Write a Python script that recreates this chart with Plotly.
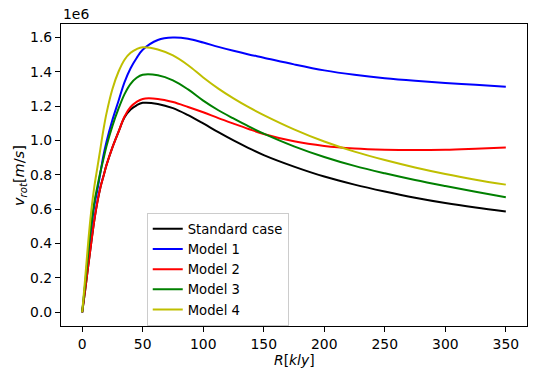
import plotly.graph_objects as go

# radius in kly
r = [0, 2.5, 5, 7.5, 10, 12.5, 15, 17.5, 20, 25, 30, 35, 40, 45, 50,
     62.5, 75, 87.5, 100, 112.5, 125, 137.5, 150,
     175, 200, 225, 250, 275, 300, 325, 350]

# rotation velocity in units of 1e6 m/s
v_standard = [0, 0.13, 0.27, 0.405, 0.535, 0.64, 0.725, 0.79, 0.855, 0.96, 1.05, 1.135,
              1.18, 1.205, 1.219,
              1.213, 1.188, 1.147, 1.099, 1.048, 1.0, 0.956, 0.915,
              0.848, 0.79, 0.743, 0.703, 0.667, 0.636, 0.61, 0.587]
v_model1 = [0, 0.16, 0.33, 0.49, 0.62, 0.71, 0.81, 0.91, 0.99, 1.12, 1.23, 1.34,
            1.42, 1.48, 1.528,
            1.585, 1.599, 1.592, 1.57, 1.545, 1.522, 1.501, 1.482,
            1.443, 1.408, 1.382, 1.362, 1.347, 1.335, 1.324, 1.313]
v_model2 = [0, 0.13, 0.27, 0.405, 0.535, 0.64, 0.725, 0.79, 0.855, 0.96, 1.05, 1.14,
            1.195, 1.225, 1.242,
            1.242, 1.224, 1.195, 1.164, 1.13, 1.098, 1.067, 1.038,
            0.995, 0.968, 0.953, 0.946, 0.944, 0.946, 0.952, 0.959]
v_model3 = [0, 0.17, 0.35, 0.51, 0.64, 0.73, 0.815, 0.89, 0.965, 1.085, 1.185, 1.27,
            1.33, 1.365, 1.383,
            1.38, 1.35, 1.297, 1.232, 1.176, 1.128, 1.082, 1.04,
            0.966, 0.904, 0.852, 0.809, 0.77, 0.735, 0.702, 0.67]
v_model4 = [0, 0.2, 0.41, 0.59, 0.73, 0.84, 0.95, 1.06, 1.155, 1.3, 1.4, 1.47,
            1.51, 1.532, 1.543,
            1.53, 1.495, 1.438, 1.367, 1.302, 1.245, 1.194, 1.148,
            1.065, 0.994, 0.935, 0.886, 0.843, 0.805, 0.772, 0.743]

names = ['Standard case', 'Model 1', 'Model 2', 'Model 3', 'Model 4']
series = [v_standard, v_model1, v_model2, v_model3, v_model4]
colors = ['#000000', '#0000ff', '#ff0000', '#008000', '#bfbf00']

font = 'DejaVu Sans'
fig = go.Figure()
for name, v, c in zip(names, series, colors):
    fig.add_trace(go.Scatter(x=r, y=v, mode='lines', name=name,
                             line=dict(color=c, width=2, shape='spline', smoothing=1)))

axis = dict(showline=True, linecolor='black', linewidth=1.1, mirror=True,
            showgrid=False, zeroline=False, ticks='outside', ticklen=5,
            tickwidth=1.1, tickcolor='black', automargin=False,
            tickfont=dict(family=font, size=13.9, color='black'))

fig.update_layout(
    width=537, height=381,
    margin=dict(l=61, r=10, t=24, b=55),
    plot_bgcolor='white', paper_bgcolor='white',
    font=dict(family=font, size=13.9, color='black'),
    xaxis=dict(axis, range=[-17.5, 367.5], tickvals=[0, 50, 100, 150, 200, 250, 300, 350]),
    yaxis=dict(axis, range=[-0.0799, 1.678], tickvals=[0, 0.2, 0.4, 0.6, 0.8, 1.0, 1.2, 1.4, 1.6],
               tickformat='.1f'),
    legend=dict(x=0.184, y=0.375, xanchor='left', yanchor='top',
                bgcolor='rgba(255,255,255,0.8)', bordercolor='#cccccc', borderwidth=1,
                font=dict(family=font, size=13.2)),
    showlegend=True,
)
fig.add_annotation(text='1e6', xref='paper', yref='paper', x=0, y=1,
                   xanchor='left', yanchor='bottom', showarrow=False, yshift=0,
                   font=dict(family=font, size=13.9))
# axis titles
fig.add_annotation(text='<i>R</i>[<i>kly</i>]',
                   xref='paper', yref='paper', x=0.5, y=-0.1126,
                   xanchor='center', yanchor='middle', showarrow=False,
                   font=dict(family=font, size=13.9))
fig.add_annotation(text='<i>v</i><sub><i>rot</i></sub>[<i>m</i>/<i>s</i>]',
                   xref='paper', yref='paper', x=-0.088, y=0.5, textangle=-90,
                   xanchor='center', yanchor='middle', showarrow=False,
                   font=dict(family=font, size=14.5))

# page body has an 8px default margin; remove it so the figure fills the window
fig.write_html('out.html', config={'displayModeBar': False},
               post_script="document.body.style.margin='0';")
